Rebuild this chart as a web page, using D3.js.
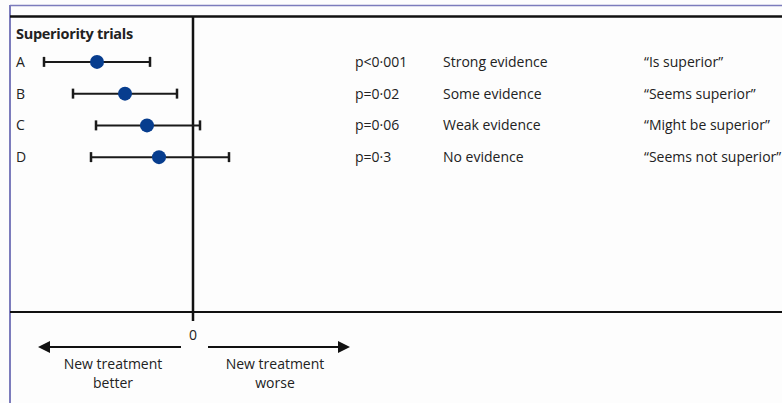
<!DOCTYPE html>
<html>
<head>
<meta charset="utf-8">
<script src="https://cdn.jsdelivr.net/npm/d3@7/dist/d3.min.js"></script>
<style>
  html, body { margin: 0; padding: 0; background: #fdfdfd; }
  svg { display: block; }
  text { font-family: "Open Sans", "DejaVu Sans", sans-serif; fill: #222; }
</style>
</head>
<body>
<div id="chart"></div>
<script>
// Trials and their effect estimates with confidence intervals (difference, new − standard)
const trials = ["A", "B", "C", "D"];
const estimates = [-9.6, -6.8, -4.6, -3.4];
const lowerCI = [-14.9, -12.0, -9.7, -10.2];
const upperCI = [-4.3, -1.6, 0.7, 3.6];
const pValues = ["p<0·001", "p=0·02", "p=0·06", "p=0·3"];
const evidence = ["Strong evidence", "Some evidence", "Weak evidence", "No evidence"];
const wording = ["“Is superior”", "“Seems superior”", "“Might be superior”", "“Seems not superior”"];

const W = 782, H = 403;
const svg = d3.select("#chart").append("svg").attr("width", W).attr("height", H);

// horizontal effect scale: zero sits on the vertical reference line
const x = d3.scaleLinear().domain([-20, 10]).range([-7, 293]);
const y = d3.scaleBand().domain(trials).range([46, 173]).paddingInner(0);

const frameColor = "#7c7cbc";
// outer frame (left and top)
svg.append("line").attr("x1", 10).attr("x2", 10).attr("y1", 5).attr("y2", H)
  .attr("stroke", frameColor).attr("stroke-width", 2);
svg.append("line").attr("x1", 10).attr("x2", W).attr("y1", 5.5).attr("y2", 5.5)
  .attr("stroke", frameColor).attr("stroke-width", 1.5);

// panel lines
svg.append("line").attr("x1", 10).attr("x2", W).attr("y1", 16.5).attr("y2", 16.5)
  .attr("stroke", "#111").attr("stroke-width", 2.5);
svg.append("line").attr("x1", 10).attr("x2", W).attr("y1", 312).attr("y2", 312)
  .attr("stroke", "#111").attr("stroke-width", 2);
svg.append("line").attr("x1", x(0)).attr("x2", x(0)).attr("y1", 16).attr("y2", 321)
  .attr("stroke", "#111").attr("stroke-width", 2.5);

svg.append("text").attr("x", 16).attr("y", 39)
  .attr("font-size", 14.5).attr("font-weight", 700).attr("letter-spacing", -0.3)
  .text("Superiority trials");

const rows = svg.selectAll("g.row").data(trials).join("g")
  .attr("class", "row")
  .attr("transform", d => `translate(0,${y(d) + y.bandwidth() / 2})`);

rows.append("text").attr("x", 16).attr("y", 5).attr("font-size", 14).text(d => d);

rows.append("line")
  .attr("x1", (d, i) => x(lowerCI[i])).attr("x2", (d, i) => x(upperCI[i]))
  .attr("stroke", "#1a1a1a").attr("stroke-width", 2);
rows.append("line")
  .attr("x1", (d, i) => x(lowerCI[i])).attr("x2", (d, i) => x(lowerCI[i]))
  .attr("y1", -5).attr("y2", 5).attr("stroke", "#1a1a1a").attr("stroke-width", 2.5);
rows.append("line")
  .attr("x1", (d, i) => x(upperCI[i])).attr("x2", (d, i) => x(upperCI[i]))
  .attr("y1", -5).attr("y2", 5).attr("stroke", "#1a1a1a").attr("stroke-width", 2.5);
rows.append("circle")
  .attr("cx", (d, i) => x(estimates[i])).attr("r", 7)
  .attr("fill", "#073d8e");

rows.append("text").attr("x", 355).attr("y", 5).attr("font-size", 14)
  .text((d, i) => pValues[i]);
rows.append("text").attr("x", 443).attr("y", 5).attr("font-size", 14)
  .text((d, i) => evidence[i]);
rows.append("text").attr("x", 644).attr("y", 5).attr("font-size", 14)
  .text((d, i) => wording[i]);

// axis zero label and direction arrows
svg.append("text").attr("x", x(0)).attr("y", 340).attr("text-anchor", "middle")
  .attr("font-size", 14).text("0");

svg.append("line").attr("x1", x(0) - 12).attr("x2", 45).attr("y1", 347).attr("y2", 347)
  .attr("stroke", "#111").attr("stroke-width", 2);
svg.append("path").attr("d", `M38,347L50,341L50,353Z`).attr("fill", "#111");
svg.append("line").attr("x1", x(0) + 15).attr("x2", 343).attr("y1", 347).attr("y2", 347)
  .attr("stroke", "#111").attr("stroke-width", 2);
svg.append("path").attr("d", `M350,347L338,341L338,353Z`).attr("fill", "#111");

const dirLabels = [
  { cx: 113, lines: ["New treatment", "better"] },
  { cx: 275, lines: ["New treatment", "worse"] }
];
dirLabels.forEach(l => {
  l.lines.forEach((t, k) => {
    svg.append("text").attr("x", l.cx).attr("y", 369 + k * 19)
      .attr("text-anchor", "middle").attr("font-size", 14).text(t);
  });
});
</script>
</body>
</html>
